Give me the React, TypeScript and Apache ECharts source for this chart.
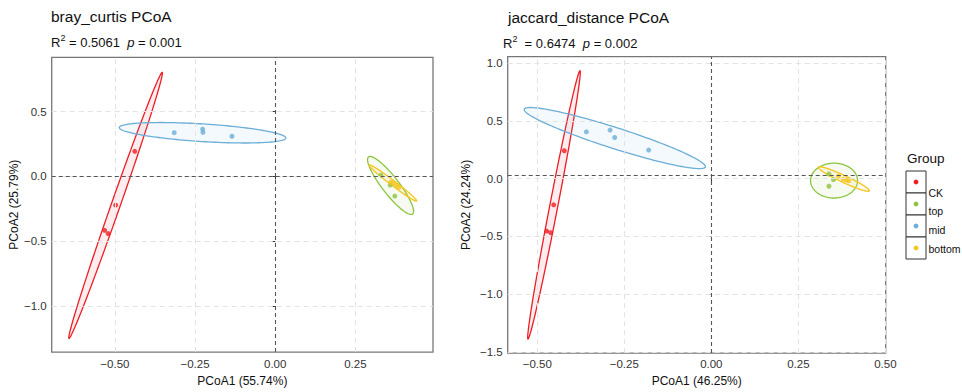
import React, { useEffect, useRef } from "react";
import * as echarts from "echarts";

// ---------- data ----------
const groups = ["CK", "top", "mid", "bottom"];
const groupColors = ["#EE1D23", "#8CC43F", "#6BAED6", "#F4C51C"];

// bray_curtis PCoA sample coordinates [PCoA1, PCoA2]
const brayCK = [[-0.438, 0.194], [-0.4975, -0.221], [-0.532, -0.415], [-0.521, -0.44]];
const brayTop = [[0.3295, 0.01], [0.3585, -0.066], [0.373, -0.151]];
const brayMid = [[-0.315, 0.338], [-0.2263, 0.365], [-0.2254, 0.34], [-0.135, 0.31]];
const brayBottom = [[0.36, -0.045], [0.368, -0.053], [0.378, -0.068], [0.386, -0.082]];

// jaccard_distance PCoA sample coordinates
const jacCK = [[-0.4224, 0.241], [-0.453, -0.227], [-0.473, -0.454], [-0.4615, -0.468]];
const jacTop = [[0.338, 0.04], [0.351, -0.009], [0.338, -0.066]];
const jacMid = [[-0.359, 0.405], [-0.291, 0.42], [-0.2776, 0.356], [-0.18, 0.247]];
const jacBottom = [[0.365, 0.02], [0.379, -0.006], [0.388, -0.012], [0.395, -0.02]];

// confidence ellipses: [centerX, centerY, semiAxisU_x, semiAxisU_y, semiAxisV_x, semiAxisV_y]
const brayEllipses = [
  [-0.4977, -0.2228, 0.1454, 1.0257, 0.01327, -0.01104],
  [0.3597, -0.0691, 0.0686, -0.2202, 0.02116, 0.03868],
  [-0.2265, 0.3372, 0.2598, -0.0404, -0.0018, -0.0678],
  [0.3669, -0.0502, 0.0739, -0.1386, 0.00477, 0.01495],
];
const jacEllipses = [
  [-0.452, -0.2272, 0.0747, 1.1608, 0.0113, -0.00654],
  [0.3526, -0.0172, 0.0675, 0, 0, 0.1509],
  [-0.2773, 0.3509, 0.2601, -0.25, -0.0092, -0.0862],
  [0.3807, -0.0034, 0.0733, -0.1026, 0.00425, 0.0273],
];

// axes
const brayXRange = [-0.697, 0.492];
const brayYRange = [-1.354, 0.919];
const jacXRange = [-0.585, 0.501];
const jacYRange = [-1.51, 1.055];
const brayXTicks = [-0.5, -0.25, 0, 0.25];
const brayYTicks = [0.5, 0, -0.5, -1.0];
const jacXTicks = [-0.5, -0.25, 0, 0.25, 0.5];
const jacYTicks = [1.0, 0.5, 0, -0.5, -1.0, -1.5];
const brayZero = [0, 0];
const jacZero = [0, 0.028];

const brayTitle = "bray_curtis PCoA";
const jacTitle = "jaccard_distance PCoA";
const brayStats = { r2: "0.5061", p: "0.001" };
const jacStats = { r2: "0.6474", p: "0.002" };
const brayXName = "PCoA1 (55.74%)";
const brayYName = "PCoA2 (25.79%)";
const jacXName = "PCoA1 (46.25%)";
const jacYName = "PCoA2 (24.24%)";

// ---------- helpers ----------
const FONT = "'Liberation Sans', Arial, Helvetica, sans-serif";
const hexToRgba = (hex: string, a: number) => {
  const n = parseInt(hex.slice(1), 16);
  return `rgba(${(n >> 16) & 255},${(n >> 8) & 255},${n & 255},${a})`;
};
const fmt = (d: number) => (v: number) => {
  const s = Number(v).toFixed(d);
  return s.startsWith("-") ? "\u2212" + s.slice(1) : s;
};

function makeAxes(gi: number, xr: number[], yr: number[], xt: number[], yt: number[], xn: string, yn: string, yGap: number, xGap: number, xMargin: number) {
  const common = {
    gridIndex: gi,
    type: "value",
    splitLine: { show: false },
    axisLine: { show: false },
    axisTick: { show: true, length: 3, lineStyle: { color: "#333", width: 1 } },
    nameLocation: "middle",
    nameTextStyle: { fontFamily: FONT, fontSize: 12, color: "#111" },
  };
  const x = {
    ...common,
    min: xr[0],
    max: xr[1],
    name: xn,
    nameGap: xGap,
    axisTick: { ...common.axisTick, customValues: xt },
    axisLabel: { customValues: xt, formatter: fmt(2), fontFamily: FONT, fontSize: 11.5, color: "#333", margin: xMargin },
  };
  const y = {
    ...common,
    min: yr[0],
    max: yr[1],
    name: yn,
    nameGap: yGap,
    axisTick: { ...common.axisTick, customValues: yt },
    axisLabel: { customValues: yt, formatter: fmt(1), fontFamily: FONT, fontSize: 11.5, color: "#333", margin: 5 },
  };
  return { x, y };
}

function ellipseRender(color: string) {
  return (params: any, api: any) => {
    const cx = api.value(0), cy = api.value(1), ux = api.value(2), uy = api.value(3), vx = api.value(4), vy = api.value(5);
    const pts: number[][] = [];
    const N = 160;
    for (let i = 0; i < N; i++) {
      const t = (i / N) * Math.PI * 2;
      pts.push(api.coord([cx + ux * Math.cos(t) + vx * Math.sin(t), cy + uy * Math.cos(t) + vy * Math.sin(t)]));
    }
    return {
      type: "polygon",
      shape: { points: pts },
      style: { fill: hexToRgba(color, 0.08), stroke: color, lineWidth: 1.3 },
    };
  };
}

function panelSeries(idx: number, pts: number[][][], ells: number[][], xt: number[], yt: number[], zero: number[]) {
  const s: any[] = [];
  s.push({
    type: "scatter",
    xAxisIndex: idx,
    yAxisIndex: idx,
    data: [],
    z: 1,
    silent: true,
    markLine: {
      silent: true,
      symbol: ["none", "none"],
      label: { show: false },
      lineStyle: { color: "#e3e3e3", type: [5, 4], width: 1 },
      data: [...xt.filter((v) => v !== zero[0]).map((v) => ({ xAxis: v })), ...yt.map((v) => ({ yAxis: v }))],
    },
  });
  ells.forEach((e, g) => {
    s.push({
      type: "custom",
      xAxisIndex: idx,
      yAxisIndex: idx,
      z: 2,
      silent: true,
      encode: { x: 0, y: 1 },
      renderItem: ellipseRender(groupColors[g]),
      data: [e],
    });
  });
  s.push({
    type: "scatter",
    xAxisIndex: idx,
    yAxisIndex: idx,
    data: [],
    z: 3,
    silent: true,
    markLine: {
      silent: true,
      symbol: ["none", "none"],
      label: { show: false },
      lineStyle: { color: "#555", type: [4, 3], width: 1.1 },
      data: [{ xAxis: zero[0] }, { yAxis: zero[1] }],
    },
  });
  pts.forEach((p, g) => {
    s.push({
      type: "scatter",
      name: groups[g],
      xAxisIndex: idx,
      yAxisIndex: idx,
      z: 4,
      symbolSize: 5,
      itemStyle: { color: groupColors[g] },
      data: p,
    });
  });
  return s;
}

function statsText(x: number, y: number, st: { r2: string; p: string }, extra: string) {
  return {
    type: "text",
    x,
    y,
    style: {
      text: `{n|R}{s|2}{n|${extra} = ${st.r2}  }{i|p}{n| = ${st.p}}`,
      verticalAlign: "middle",
      rich: {
        n: { fontFamily: FONT, fontSize: 13, fill: "#111", lineHeight: 16, verticalAlign: "bottom" },
        s: { fontFamily: FONT, fontSize: 9, fill: "#111", lineHeight: 16, verticalAlign: "top" },
        i: { fontFamily: FONT, fontSize: 13, fontStyle: "italic", fill: "#111", lineHeight: 16, verticalAlign: "bottom" },
      },
    },
  };
}

export default function App() {
  const ref = useRef<HTMLDivElement>(null);
  useEffect(() => {
    if (!ref.current) return;
    const chart = echarts.init(ref.current, null, { renderer: "svg" });
    const a0 = makeAxes(0, brayXRange, brayYRange, brayXTicks, brayYTicks, brayXName, brayYName, 24, 20, 6);
    const a1 = makeAxes(1, jacXRange, jacYRange, jacXTicks, jacYTicks, jacXName, jacYName, 36, 19, 5);

    const legendEls: any[] = [
      { type: "text", x: 907, y: 158, style: { text: "Group", font: `13.5px ${FONT}`, fill: "#111", verticalAlign: "middle" } },
    ];
    const legendTextY = [193, 211, 229.5, 248.5];
    groups.forEach((g, i) => {
      const top = 171 + i * 22;
      legendEls.push({ type: "rect", shape: { x: 906, y: top, width: 20, height: 22 }, style: { fill: "#fff", stroke: "#333", lineWidth: 1 } });
      legendEls.push({ type: "circle", shape: { cx: 916, cy: top + 11, r: 2.4 }, style: { fill: groupColors[i] } });
      legendEls.push({ type: "text", x: 928.5, y: legendTextY[i], style: { text: g, font: `10.5px ${FONT}`, fill: "#111", verticalAlign: "middle" } });
    });

    chart.setOption({
      animation: false,
      backgroundColor: "#fff",
      grid: [
        { left: 51.7, top: 57.3, width: 381.3, height: 301, show: true, borderColor: "#777", borderWidth: 1.3, backgroundColor: "transparent" },
        { left: 507.7, top: 56.7, width: 378, height: 297.3, show: true, borderColor: "#777", borderWidth: 1.3, backgroundColor: "transparent" },
      ],
      xAxis: [a0.x, a1.x],
      yAxis: [a0.y, a1.y],
      series: [
        ...panelSeries(0, [brayCK, brayTop, brayMid, brayBottom], brayEllipses, brayXTicks, brayYTicks, brayZero),
        ...panelSeries(1, [jacCK, jacTop, jacMid, jacBottom], jacEllipses, jacXTicks, jacYTicks, jacZero),
      ],
      graphic: [
        { type: "text", x: 51, y: 16.5, style: { text: brayTitle, font: `15.5px ${FONT}`, fill: "#111", verticalAlign: "middle" } },
        statsText(51, 41, brayStats, ""),
        { type: "text", x: 508, y: 17, style: { text: jacTitle, font: `15.5px ${FONT}`, fill: "#111", verticalAlign: "middle" } },
        statsText(503, 42, jacStats, " "),
        ...legendEls,
      ],
    });
    return () => chart.dispose();
  }, []);
  return <div ref={ref} style={{ position: "fixed", left: 0, top: 0, width: 962, height: 392 }} />;
}
